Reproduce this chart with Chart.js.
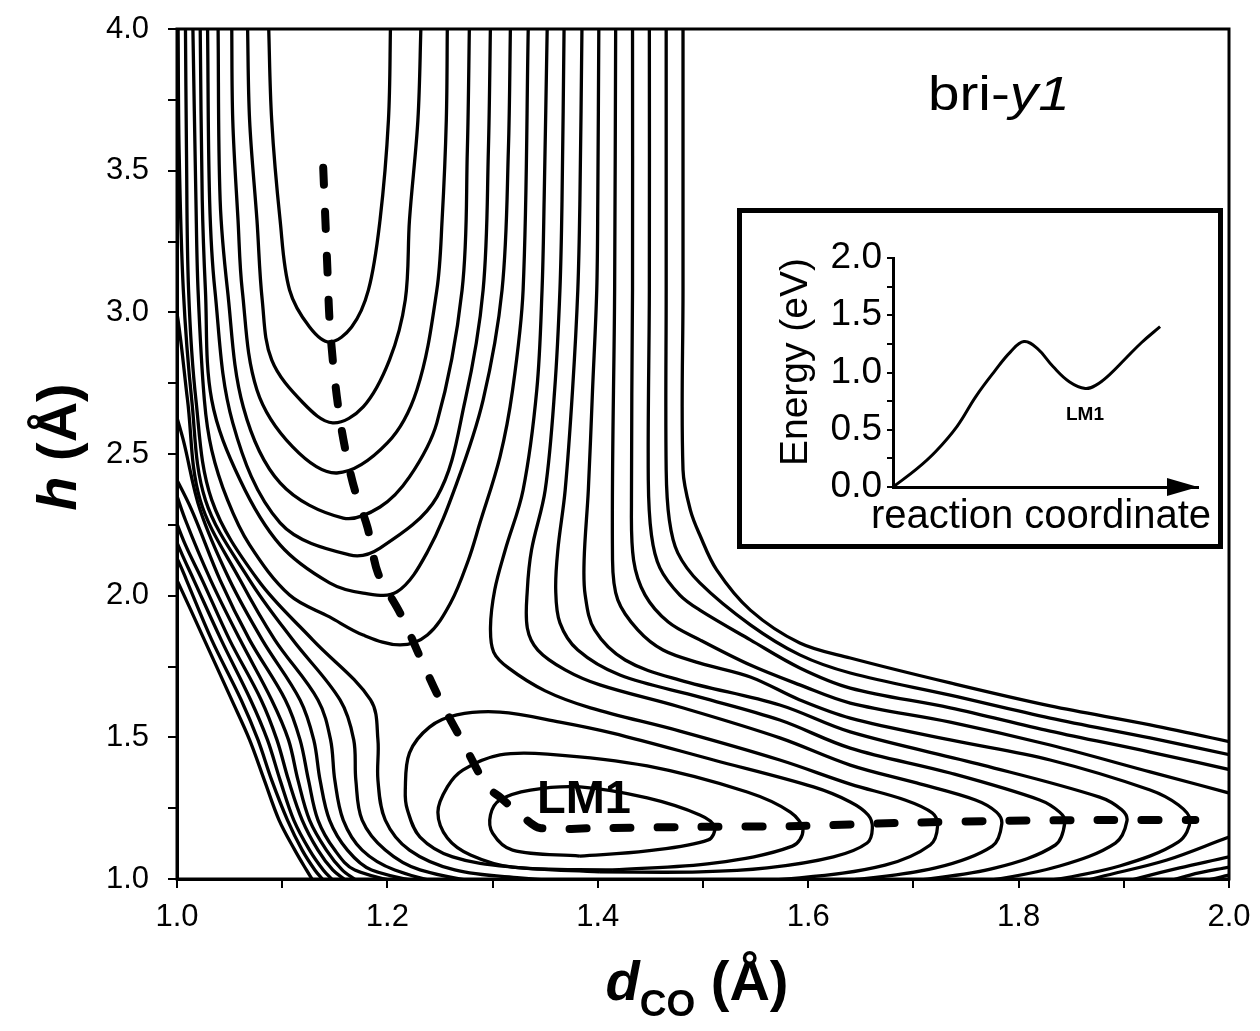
<!DOCTYPE html>
<html>
<head>
<meta charset="utf-8">
<script src="https://cdn.jsdelivr.net/npm/chart.js@4.4.1/dist/chart.umd.min.js"></script>
<style>
  html, body { margin: 0; padding: 0; background: #fff; }
  #wrap { position: relative; width: 1260px; height: 1031px; }
  #main { position: absolute; left: 0; top: 0; }
  #insetBox { position: absolute; left: 737px; top: 208px; width: 476px; height: 331px; border: 5px solid #000; background: #fff; }
</style>
</head>
<body>
<div id="wrap">
  <canvas id="main" width="1260" height="1031"></canvas>
  <div id="insetBox"><canvas id="inset" width="476" height="331"></canvas></div>
</div>
<script>
// contour lines of the surface, [d_CO (Å), h (Å)]
// valley at large h (U shapes)
const u1 = [[1.087,4.025],[1.090,3.679],[1.098,3.326],[1.107,3.079],[1.126,2.948],[1.145,2.895],[1.166,2.948],[1.182,3.079],[1.193,3.326],[1.201,3.679],[1.203,4.025]];
const u2 = [[1.067,4.025],[1.069,3.679],[1.076,3.326],[1.081,3.044],[1.090,2.832],[1.120,2.680],[1.148,2.610],[1.177,2.666],[1.202,2.832],[1.217,3.044],[1.221,3.326],[1.229,3.679],[1.232,4.025]];
const u3 = [[1.052,4.025],[1.053,3.679],[1.058,3.326],[1.062,3.079],[1.076,2.726],[1.110,2.525],[1.152,2.433],[1.200,2.539],[1.228,2.726],[1.247,3.079],[1.252,3.326],[1.256,3.679],[1.257,4.025]];
const u4 = [[1.039,4.025],[1.041,3.397],[1.048,3.079],[1.063,2.666],[1.098,2.398],[1.158,2.274],[1.193,2.313],[1.221,2.419],[1.247,2.610],[1.271,3.079],[1.276,3.573],[1.278,4.025]];
const u5 = [[1.029,4.025],[1.031,3.397],[1.036,3.079],[1.053,2.610],[1.098,2.257],[1.164,2.144],[1.193,2.168],[1.247,2.348],[1.274,2.691],[1.291,3.079],[1.296,3.573],[1.298,4.025]];
const u6 = [[1.022,4.025],[1.024,3.397],[1.027,3.079],[1.033,2.691],[1.060,2.408],[1.098,2.179],[1.145,2.045],[1.177,2.009],[1.209,2.013],[1.238,2.154],[1.266,2.398],[1.291,2.691],[1.309,3.079],[1.315,3.573],[1.317,4.025]];
const u7 = [[1.015,4.025],[1.018,3.397],[1.020,3.079],[1.026,2.691],[1.033,2.514],[1.048,2.338],[1.069,2.179],[1.107,2.002],[1.145,1.925],[1.177,1.861],[1.212,1.826],[1.238,1.861],[1.260,1.974],[1.277,2.126],[1.288,2.257],[1.307,2.490],[1.319,2.726],[1.329,3.079],[1.334,4.025]];

// closed loops around LM1 (start and end at the lowest point)
const l1 = [[1.383,1.081],[1.319,1.102],[1.300,1.162],[1.298,1.226],[1.307,1.279],[1.336,1.314],[1.383,1.325],[1.447,1.286],[1.497,1.226],[1.511,1.184],[1.505,1.138],[1.447,1.099],[1.383,1.081]];
const l2 = [[1.414,1.032],[1.319,1.042],[1.279,1.085],[1.257,1.145],[1.248,1.236],[1.257,1.325],[1.272,1.385],[1.307,1.438],[1.352,1.441],[1.447,1.399],[1.542,1.307],[1.583,1.236],[1.595,1.173],[1.585,1.116],[1.510,1.056],[1.414,1.032]];
const l3 = [[1.402,1.025],[1.319,1.042],[1.262,1.078],[1.231,1.148],[1.219,1.244],[1.217,1.314],[1.221,1.445],[1.240,1.536],[1.266,1.579],[1.307,1.589],[1.364,1.554],[1.414,1.515],[1.510,1.420],[1.605,1.325],[1.640,1.272],[1.657,1.226],[1.661,1.180],[1.656,1.127],[1.624,1.078],[1.561,1.039],[1.497,1.025],[1.402,1.025]];

// levels above the saddle: down from the top, round the tip, back along the bottom and up the left side
const a1 = [[1.352,4.025],[1.349,3.397],[1.347,3.079],[1.342,2.726],[1.329,2.373],[1.312,2.161],[1.302,2.020],[1.298,1.889],[1.301,1.801],[1.315,1.745],[1.350,1.664],[1.393,1.604],[1.478,1.522],[1.573,1.420],[1.640,1.335],[1.692,1.279],[1.718,1.233],[1.723,1.187],[1.716,1.120],[1.673,1.049],[1.592,1.004],[1.497,0.986],[1.402,0.986],[1.326,1.004],[1.264,1.032],[1.221,1.102],[1.198,1.208],[1.191,1.349],[1.191,1.491],[1.184,1.632],[1.129,1.844],[1.077,2.055],[1.033,2.338],[1.018,2.691],[1.011,3.079],[1.009,3.573],[1.008,4.025]];
const a2 = [[1.368,4.025],[1.366,3.397],[1.364,3.079],[1.359,2.726],[1.350,2.373],[1.337,2.161],[1.333,2.020],[1.333,1.886],[1.343,1.808],[1.369,1.738],[1.402,1.685],[1.478,1.607],[1.573,1.498],[1.640,1.402],[1.703,1.339],[1.759,1.279],[1.779,1.236],[1.784,1.194],[1.775,1.116],[1.721,1.039],[1.640,0.996],[1.545,0.968],[1.402,0.961],[1.307,0.982],[1.231,1.032],[1.198,1.102],[1.176,1.208],[1.170,1.349],[1.168,1.491],[1.155,1.632],[1.110,1.844],[1.069,2.055],[1.027,2.338],[1.014,2.691],[1.006,3.079],[1.002,3.573],[1.001,4.025]];
const a3 = [[1.385,4.025],[1.383,3.397],[1.381,3.079],[1.376,2.726],[1.369,2.373],[1.362,2.161],[1.360,2.020],[1.364,1.904],[1.381,1.808],[1.421,1.720],[1.497,1.642],[1.573,1.561],[1.640,1.462],[1.735,1.374],[1.820,1.279],[1.839,1.236],[1.844,1.201],[1.835,1.120],[1.778,1.039],[1.706,0.996],[1.640,0.968],[1.497,0.954],[1.355,0.954],[1.269,0.975],[1.207,1.032],[1.176,1.102],[1.158,1.208],[1.150,1.349],[1.146,1.491],[1.134,1.632],[1.093,1.844],[1.060,2.055],[1.022,2.338],[1.010,2.691],[1.001,2.973],[0.995,3.079]];
const a4 = [[1.401,4.025],[1.400,3.397],[1.399,3.079],[1.395,2.726],[1.391,2.373],[1.387,2.126],[1.388,2.002],[1.397,1.879],[1.426,1.773],[1.478,1.702],[1.573,1.614],[1.640,1.519],[1.766,1.402],[1.877,1.289],[1.898,1.244],[1.903,1.205],[1.892,1.127],[1.839,1.046],[1.773,0.996],[1.687,0.961],[1.497,0.944],[1.307,0.954],[1.250,0.979],[1.185,1.032],[1.162,1.102],[1.145,1.208],[1.136,1.349],[1.130,1.491],[1.117,1.632],[1.081,1.844],[1.050,2.055],[1.022,2.302],[1.006,2.549],[0.995,2.691]];
const a5 = [[1.417,4.025],[1.416,3.079],[1.414,2.126],[1.419,1.985],[1.438,1.879],[1.462,1.808],[1.497,1.762],[1.545,1.713],[1.592,1.632],[1.640,1.568],[1.735,1.491],[1.830,1.420],[1.925,1.314],[1.952,1.261],[1.963,1.208],[1.952,1.131],[1.896,1.046],[1.830,0.996],[1.735,0.954],[1.497,0.933],[1.288,0.944],[1.231,0.975],[1.169,1.032],[1.150,1.102],[1.134,1.208],[1.125,1.349],[1.117,1.491],[1.103,1.632],[1.069,1.844],[1.041,2.055],[1.014,2.302],[0.995,2.444]];
// from the top out through the right edge
const a6 = [[1.433,4.025],[1.433,3.079],[1.432,2.338],[1.434,2.126],[1.445,2.002],[1.467,1.907],[1.497,1.844],[1.545,1.755],[1.592,1.685],[1.640,1.621],[1.735,1.554],[1.830,1.473],[1.925,1.378],[2.015,1.289]];
const a7 = [[1.449,4.025],[1.449,3.079],[1.448,2.408],[1.451,2.214],[1.459,2.098],[1.478,2.002],[1.497,1.949],[1.545,1.844],[1.592,1.745],[1.640,1.674],[1.735,1.604],[1.830,1.522],[1.925,1.448],[2.015,1.374]];
const a8 = [[1.465,4.025],[1.465,3.079],[1.465,2.444],[1.468,2.267],[1.476,2.151],[1.497,2.045],[1.545,1.897],[1.592,1.791],[1.640,1.727],[1.735,1.649],[1.830,1.568],[1.925,1.498],[2.015,1.427]];
const a9 = [[1.481,4.025],[1.481,3.079],[1.481,2.444],[1.488,2.302],[1.497,2.214],[1.513,2.091],[1.545,1.949],[1.592,1.833],[1.640,1.780],[1.735,1.692],[1.830,1.611],[1.925,1.544],[2.015,1.473]];
// lower-left family: from the left edge down to the bottom
const w6 = [[0.995,2.408],[1.008,2.267],[1.032,2.055],[1.060,1.844],[1.090,1.632],[1.106,1.491],[1.115,1.349],[1.126,1.208],[1.142,1.102],[1.157,1.032],[1.170,0.996],[1.180,0.968]];
const w7 = [[0.995,2.302],[1.008,2.179],[1.024,2.055],[1.050,1.844],[1.080,1.632],[1.095,1.491],[1.106,1.349],[1.119,1.208],[1.134,1.102],[1.148,1.032],[1.160,0.996],[1.167,0.968]];
const w8 = [[0.995,2.232],[1.005,2.144],[1.016,2.055],[1.042,1.844],[1.070,1.632],[1.086,1.491],[1.098,1.349],[1.111,1.208],[1.126,1.102],[1.139,1.032],[1.148,0.996],[1.155,0.968]];
const w9 = [[0.995,2.168],[1.003,2.108],[1.009,2.055],[1.033,1.844],[1.061,1.632],[1.077,1.491],[1.090,1.349],[1.105,1.208],[1.119,1.102],[1.131,1.032],[1.139,0.996],[1.145,0.968]];
const w10 = [[0.995,2.091],[1.000,2.055],[1.026,1.844],[1.052,1.632],[1.069,1.491],[1.083,1.349],[1.097,1.208],[1.112,1.102],[1.123,1.032],[1.129,0.996],[1.134,0.968]];
// bottom right corner
const b1 = [[2.010,1.159],[2.0,1.148],[1.941,1.067],[1.877,1.007],[1.849,0.979]];
const b2 = [[2.010,1.088],[2.0,1.078],[1.953,1.039],[1.915,1.004],[1.887,0.975]];
const b3 = [[2.010,1.049],[2.0,1.042],[1.963,1.014],[1.934,0.982]];
const b4 = [[2.010,1.021],[2.0,1.014],[1.972,0.989]];

// minimum energy path (dashed)
const mepPath = [[1.139,3.510],[1.143,3.150],[1.145,2.973],[1.149,2.797],[1.155,2.620],[1.162,2.479],[1.169,2.373],[1.181,2.242],[1.191,2.080],[1.212,1.939],[1.231,1.784],[1.250,1.632],[1.272,1.480],[1.295,1.325],[1.307,1.289],[1.329,1.219],[1.345,1.180],[1.402,1.180],[1.497,1.184],[1.592,1.187],[1.687,1.198],[1.782,1.205],[1.877,1.208],[1.968,1.208]];

// inset: energy along the reaction coordinate
const rcX = [0, 0.09, 0.16, 0.24, 0.31, 0.38, 0.44, 0.49, 0.54, 0.60, 0.66, 0.72, 0.76, 0.81, 0.87, 0.93, 1.0];
const rcE = [0, 0.16, 0.31, 0.53, 0.79, 1.01, 1.18, 1.27, 1.21, 1.05, 0.92, 0.86, 0.89, 0.98, 1.12, 1.26, 1.40];

const SANS = "'Liberation Sans', Arial, sans-serif";

const contours = [u1, u2, u3, u4, u5, u6, u7, l1, l2, l3, a1, a2, a3, a4, a5, a6, a7, a8, a9, w6, w7, w8, w9, w10, b1, b2, b3, b4];

const datasets = contours.map(pts => ({
    data: pts.map(([x, y]) => ({ x, y })),
    showLine: true,
    borderColor: "#000",
    borderWidth: 3.3,
    pointRadius: 0,
    tension: 0.35,
    order: 1,
}));
datasets.push({
    data: mepPath.map(([x, y]) => ({ x, y })),
    showLine: true,
    borderColor: "#000",
    borderWidth: 8,
    borderDash: [17, 27],
    borderCapStyle: "round",
    pointRadius: 0,
    tension: 0.3,
    order: 0,
});

// write a row of differently styled text pieces
function drawRuns(ctx, runs, x, y, align) {
    let total = 0;
    runs.forEach((r) => { ctx.font = r.font; r.w = ctx.measureText(r.text).width; total += r.w; });
    let cx = align === "center" ? x - total / 2 : x;
    runs.forEach((r) => {
        ctx.font = r.font;
        ctx.fillText(r.text, cx, y + (r.dy || 0));
        cx += r.w;
    });
}

const mainDecor = {
    id: "mainDecor",
    afterDraw(chart) {
        const { ctx, chartArea: a } = chart;
        ctx.save();
        ctx.strokeStyle = "#000";
        ctx.lineWidth = 3;
        ctx.strokeRect(a.left, a.top, a.right - a.left, a.bottom - a.top);

        ctx.fillStyle = "#000";
        ctx.textAlign = "left";
        ctx.textBaseline = "alphabetic";

        ctx.save();
        ctx.translate(928, 110);
        ctx.scale(1.18, 1);
        drawRuns(ctx, [
            { text: "bri-", font: "48px " + SANS },
            { text: "y1", font: "italic 48px " + SANS },
        ], 0, 0, "left");
        ctx.restore();

        drawRuns(ctx, [{ text: "LM1", font: "bold 47px " + SANS }], 537, 813, "left");

        // x title
        drawRuns(ctx, [
            { text: "d", font: "italic bold 56px " + SANS },
            { text: "CO", font: "bold 37px " + SANS, dy: 16 },
            { text: " (Å)", font: "bold 56px " + SANS },
        ], 697, 1000, "center");

        // y title
        ctx.translate(76, 447);
        ctx.rotate(-Math.PI / 2);
        drawRuns(ctx, [
            { text: "h", font: "italic bold 56px " + SANS },
            { text: " (Å)", font: "bold 56px " + SANS },
        ], 0, 0, "center");
        ctx.restore();
    },
};

new Chart(document.getElementById("main"), {
    type: "scatter",
    data: { datasets },
    options: {
        responsive: false,
        animation: false,
        devicePixelRatio: 1,
        layout: { padding: { top: 29, right: 31, left: 0, bottom: 0 } },
        elements: { line: { capBezierPoints: false } },
        plugins: { legend: { display: false }, tooltip: { enabled: false } },
        scales: {
            x: {
                type: "linear",
                min: 1,
                max: 2,
                afterFit: (s) => { s.height = 152; s.paddingLeft = 0; s.paddingRight = 0; },
                ticks: {
                    stepSize: 0.1,
                    autoSkip: false,
                    maxRotation: 0,
                    padding: 11,
                    color: "#000",
                    font: { family: SANS, size: 31 },
                    callback: (v) => (Math.round(v * 10) % 2 === 0 ? v.toFixed(1) : ""),
                },
                grid: { drawOnChartArea: false, drawTicks: true, tickLength: 9, color: "#000", lineWidth: 2 },
                border: { display: true, color: "#000", width: 3 },
            },
            y: {
                type: "linear",
                min: 1,
                max: 4,
                afterFit: (s) => { s.width = 177; s.paddingTop = 0; s.paddingBottom = 0; },
                ticks: {
                    stepSize: 0.25,
                    autoSkip: false,
                    padding: 19,
                    color: "#000",
                    font: { family: SANS, size: 31 },
                    callback: (v) => (Math.round(v * 4) % 2 === 0 ? v.toFixed(1) : ""),
                },
                grid: { drawOnChartArea: false, drawTicks: true, tickLength: 9, color: "#000", lineWidth: 2 },
                border: { display: true, color: "#000", width: 3 },
            },
        },
    },
    plugins: [mainDecor],
});

// Inset chart
const insetDecor = {
    id: "insetDecor",
    afterDraw(chart) {
        const { ctx, chartArea: a } = chart;
        ctx.save();
        ctx.fillStyle = "#000";
        // arrow head on the x axis
        ctx.beginPath();
        ctx.moveTo(a.right, a.bottom);
        ctx.lineTo(a.right - 31, a.bottom - 9);
        ctx.lineTo(a.right - 31, a.bottom + 9);
        ctx.closePath();
        ctx.fill();

        ctx.textBaseline = "alphabetic";
        drawRuns(ctx, [{ text: "reaction coordinate", font: "40px " + SANS }], 299, 315, "center");
        drawRuns(ctx, [{ text: "LM1", font: "bold 19px " + SANS }], 343, 207, "center");
        ctx.translate(65, 149);
        ctx.rotate(-Math.PI / 2);
        drawRuns(ctx, [{ text: "Energy (eV)", font: "39px " + SANS }], 0, 0, "center");
        ctx.restore();
    },
};

new Chart(document.getElementById("inset"), {
    type: "scatter",
    data: {
        datasets: [{
            data: rcX.map((x, i) => ({ x, y: rcE[i] })),
            showLine: true,
            borderColor: "#000",
            borderWidth: 3,
            pointRadius: 0,
            tension: 0.4,
        }],
    },
    options: {
        responsive: false,
        animation: false,
        devicePixelRatio: 1,
        layout: { padding: { top: 45, right: 20, left: 0, bottom: 0 } },
        plugins: { legend: { display: false }, tooltip: { enabled: false } },
        scales: {
            x: {
                type: "linear",
                min: 0,
                max: 1.142,
                afterFit: (s) => { s.height = 57; s.paddingLeft = 0; s.paddingRight = 0; },
                ticks: { display: false },
                grid: { display: false },
                border: { display: true, color: "#000", width: 3 },
            },
            y: {
                type: "linear",
                min: 0,
                max: 2,
                afterFit: (s) => { s.width = 151; s.paddingTop = 0; s.paddingBottom = 0; },
                ticks: {
                    stepSize: 0.25,
                    autoSkip: false,
                    padding: 5,
                    color: "#000",
                    font: { family: SANS, size: 37 },
                    callback: (v) => (Math.round(v * 4) % 2 === 0 ? v.toFixed(1) : ""),
                },
                grid: { drawOnChartArea: false, drawTicks: true, tickLength: 6, color: "#000", lineWidth: 2 },
                border: { display: true, color: "#000", width: 3 },
            },
        },
    },
    plugins: [insetDecor],
});
</script>
</body>
</html>
